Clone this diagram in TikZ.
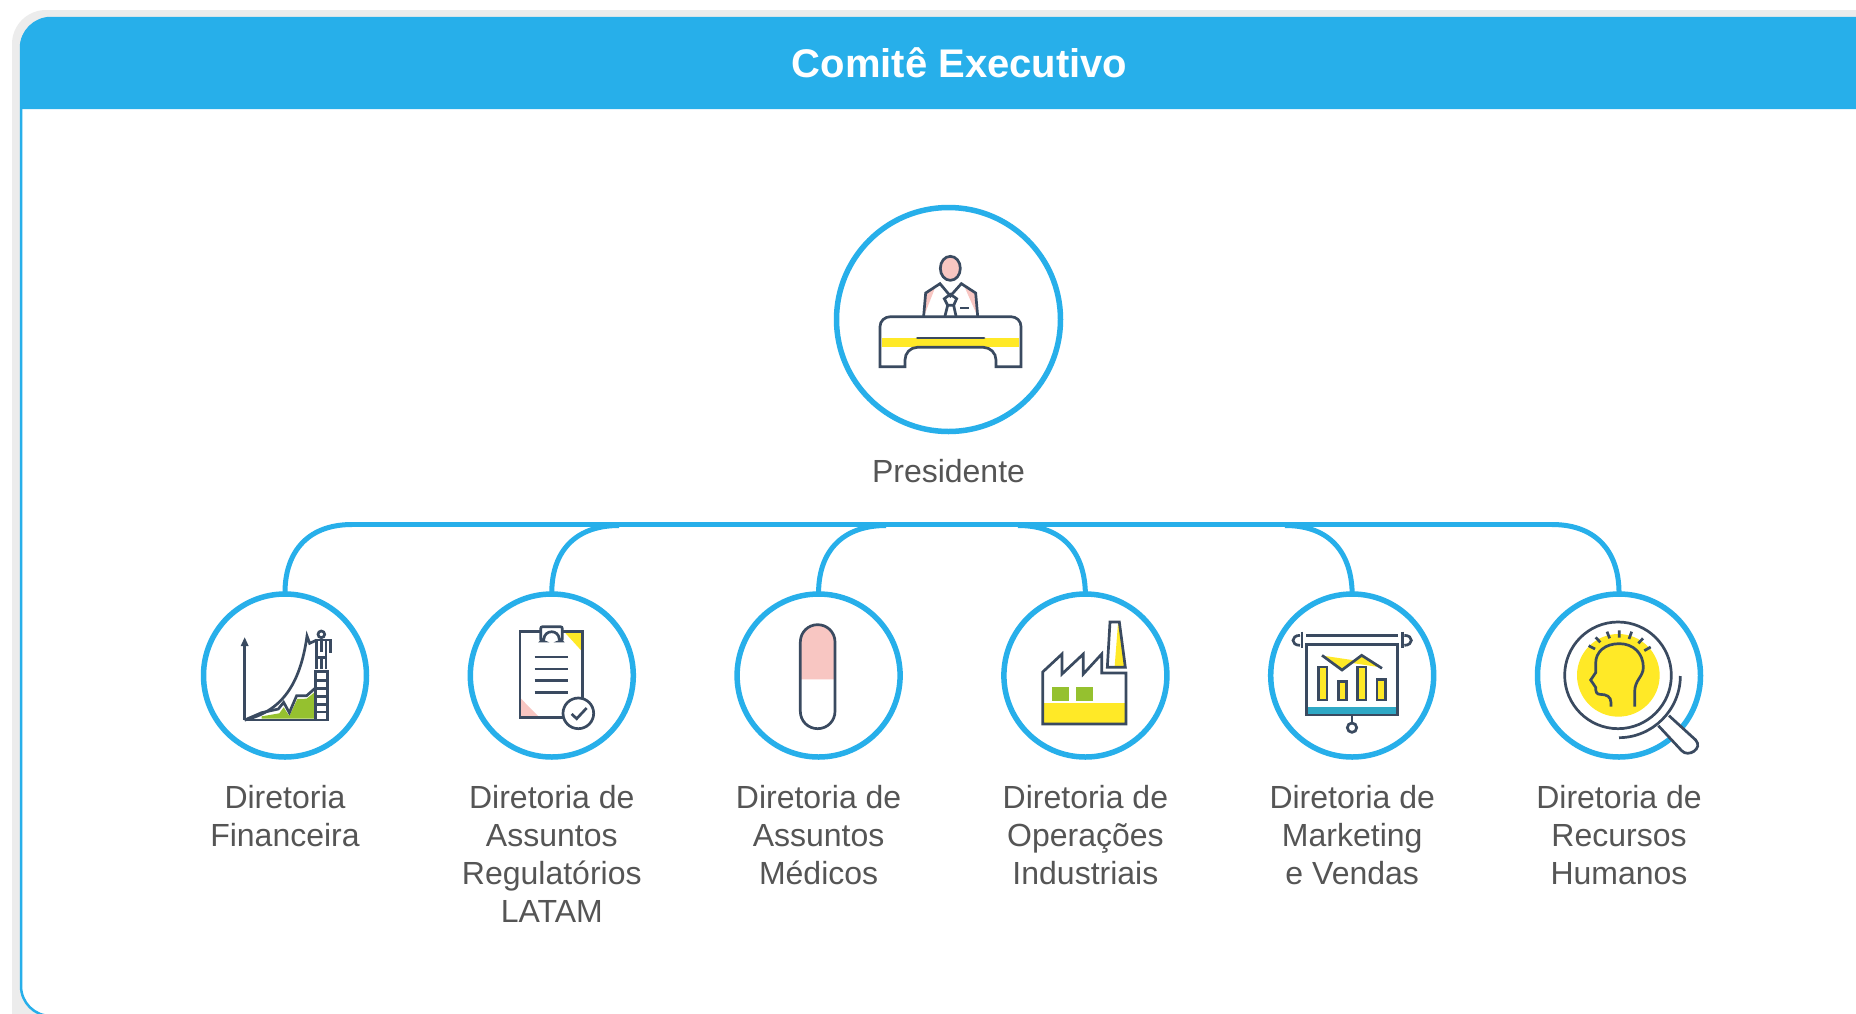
\documentclass[tikz,border=0pt]{standalone}
\usepackage{fontspec}
\setmainfont{Liberation Sans}
\definecolor{skyb}{HTML}{27AFEA}
\definecolor{navy}{HTML}{3A4A60}
\definecolor{yell}{HTML}{FFE927}
\definecolor{pinkk}{HTML}{F8C6C2}
\definecolor{grn}{HTML}{95C12F}
\definecolor{teall}{HTML}{2FA8C5}
\definecolor{edgegray}{HTML}{ECECEC}
\definecolor{txtgray}{HTML}{555555}
\tikzset{
  ink/.style={draw=navy,line width=2.7pt,line join=miter},
  ring/.style={circle,draw=skyb,fill=white,line width=5.5pt,inner sep=0pt,outer sep=0pt},
  bigring/.style={ring,minimum size=224pt},
  smallring/.style={ring,minimum size=163pt},
  link/.style={draw=skyb,line width=5pt},
  lbl/.style={font=\fontsize{32}{38}\selectfont,text=txtgray,align=center,anchor=north,inner sep=0pt},
  icon/.style={x=0.33333pt,y=-0.33333pt}
}
\begin{document}
\begin{tikzpicture}[x=1pt,y=-1pt]
\useasboundingbox (0,0) rectangle (1856,1013);
\clip (0,0) rectangle (1856,1013);
\fill[white] (0,0) rectangle (1856,1013);
% frame
\fill[edgegray,rounded corners=34pt] (12,10) rectangle (1950,1100);
\fill[white,rounded corners=30pt] (21,18) rectangle (1950,1016);
\draw[skyb,line width=2.5pt,rounded corners=30pt] (21,18) rectangle (1950,1016);
\fill[skyb] (20,109) -- (20,48.5) .. controls (20,31.5) and (33,18.5) .. (50,18.5) -- (1950,18.5) -- (1950,109) -- cycle;
\node[font=\bfseries\fontsize{40}{48}\selectfont,text=white,inner sep=0pt] (title) at (959.5,63) {Comitê Executivo};
% rings
\node[bigring] (pres) at (948.5,319.5) {};
\node[smallring] (d1) at (285,675.5) {};
\node[smallring] (d2) at (551.8,675.5) {};
\node[smallring] (d3) at (818.6,675.5) {};
\node[smallring] (d4) at (1085.4,675.5) {};
\node[smallring] (d5) at (1352.2,675.5) {};
\node[smallring] (d6) at (1619,675.5) {};
% connectors
\coordinate (t1) at (352,524.5);
\coordinate (t2) at (619,525.5);
\coordinate (t3) at (886,525.5);
\coordinate (t4) at (1018,525.5);
\coordinate (t5) at (1285,525.5);
\coordinate (t6) at (1552,524.5);
\draw[link] (t1) -- (t6);
\draw[link] (d1.north) .. controls (284.5,555) and (305,524.5) .. (t1);
\draw[link] (d2.north) .. controls (551.3,555) and (572,525.5) .. (t2);
\draw[link] (d3.north) .. controls (818.1,555) and (839,525.5) .. (t3);
\draw[link] (d4.north) .. controls (1084.9,555) and (1065,525.5) .. (t4);
\draw[link] (d5.north) .. controls (1351.7,555) and (1332,525.5) .. (t5);
\draw[link] (d6.north) .. controls (1619.5,555) and (1599,524.5) .. (t6);
% labels
\node[lbl] (lp) at (948.5,459) {Presidente};
\node[lbl] (l1) at (285,785.5) {Diretoria\\Financeira};
\node[lbl] (l2) at (551.8,785.5) {Diretoria de\\Assuntos\\Regulatórios\\LATAM};
\node[lbl] (l3) at (818.6,785.5) {Diretoria de\\Assuntos\\Médicos};
\node[lbl] (l4) at (1085.4,785.5) {Diretoria de\\Operações\\Industriais};
\node[lbl] (l5) at (1352.2,785.5) {Diretoria de\\Marketing\\e Vendas};
\node[lbl] (l6) at (1619,785.5) {Diretoria de\\Recursos\\Humanos};
% president icon
\begin{scope}[shift={(820,195)},icon]
\fill[yell] (186,429) rectangle (598,456);
\fill[pinkk] (317,296) -- (345,279) -- (314,358) -- cycle;
\fill[pinkk] (467,296) -- (432,272) -- (470,358) -- cycle;
\path[ink,fill=pinkk] (391,184) .. controls (374,184) and (361,200) .. (361,220) .. controls (361,240) and (374,256) .. (391,256) .. controls (408,256) and (421,240) .. (421,220) .. controls (421,200) and (408,184) .. (391,184) -- cycle;
\path[ink] (311,363) -- (317,294) -- (360,266) -- (391,303) -- (424,266) -- (467,294) -- (473,363);
\path[ink] (391,298) -- (410,311) -- (401,331) -- (383,331) -- (373,311) -- cycle;
\path[ink] (383,331) -- (375,363) (401,331) -- (408,363);
\path[ink] (421,339) -- (448,339);
\path[ink] (180,515) -- (180,395) .. controls (180,378) and (194,365) .. (212,365) -- (572,365) .. controls (590,365) and (603,378) .. (603,395) -- (603,515) -- (528,515) -- (528,495) .. controls (528,474) and (511,457) .. (490,457) -- (292,457) .. controls (271,457) and (255,474) .. (255,495) -- (255,515) -- cycle;
\path[ink,line cap=round] (292,429) -- (492,429);
\end{scope}
% finance icon
\begin{scope}[shift={(190,580)},icon]
\fill[grn] (215,409) -- (268,400) -- (281,382) -- (298,408) -- (322,357) -- (350,356) -- (372,338) -- (372,416) -- (215,416) -- cycle;
\path[ink] (164,420) -- (164,195);
\fill[navy] (152,198) -- (164,172) -- (176,198) -- cycle;
\path[ink] (164,420) -- (412,420);
\path[ink] (376,274) rectangle (412,420);
\path[ink] (376,302) -- (412,302) (376,325) -- (412,325) (376,350) -- (412,350) (376,373) -- (412,373) (376,396) -- (412,396);
\path[ink] (164,420) .. controls (270,395) and (330,320) .. (351,168) -- (359,190) -- (380,180);
\path[ink] (164,420) -- (215,398) -- (265,387) -- (281,367) -- (298,398) -- (320,347) -- (350,347) -- (375,325);
\path[ink] (394,163) circle[radius=10];
\path[ink] (380,268) -- (380,180) -- (421,180) -- (421,220);
\path[ink] (408,268) -- (408,182);
\path[ink] (394,232) -- (394,268) (380,232) -- (408,232);
\path[ink] (394,182) -- (394,215);
\end{scope}
% clipboard icon
\begin{scope}[shift={(460,580)},icon]
\fill[yell] (315,158) -- (366,158) -- (366,214) -- cycle;
\fill[pinkk] (182,355) -- (182,414) -- (240,414) -- cycle;
\path[ink] (180,155) rectangle (368,413);
\path[ink,fill=white,rounded corners=2pt] (242,183) -- (242,140) -- (307,140) -- (307,183) -- (298,183) .. controls (296,148) and (254,148) .. (251,183) -- cycle;
\path[ink] (224,231) -- (325,231) (224,267) -- (325,267) (224,302) -- (325,302) (224,338) -- (325,338);
\path[ink,fill=white] (355,400) circle[radius=46];
\path[ink] (335,402) -- (350,416) -- (380,384);
\end{scope}
% pill icon
\begin{scope}[shift={(725,580)},icon]
\fill[pinkk] (226,298) -- (226,186) .. controls (226,157) and (249,134) .. (278,134) .. controls (307,134) and (330,157) .. (330,186) -- (330,298) -- cycle;
\path[ink] (226,186) .. controls (226,157) and (249,134) .. (278,134) .. controls (307,134) and (330,157) .. (330,186) -- (330,394) .. controls (330,423) and (307,446) .. (278,446) .. controls (249,446) and (226,423) .. (226,394) -- cycle;
\end{scope}
% factory icon
\begin{scope}[shift={(990,580)},icon]
\fill[yell] (162,369) rectangle (404,428);
\fill[grn] (186,321) rectangle (236,363);
\fill[grn] (258,321) rectangle (308,363);
\fill[yell] (384,130) -- (388,130) -- (403,259) -- (374,259) -- cycle;
\path[ink] (158,432) -- (158,276) -- (216,222) -- (216,282) -- (280,222) -- (280,282) -- (335,222) -- (335,279) -- (408,279) -- (408,432) -- cycle;
\path[ink] (360,126) -- (388,126) -- (406,262) -- (352,262) -- cycle;
\end{scope}
% marketing icon
\begin{scope}[shift={(1260,580)},icon]
\fill[teall] (144,381) rectangle (408,402);
\fill[yell] (195,228) -- (290,242) -- (246,268) -- cycle;
\fill[yell] (305,228) -- (362,262) -- (270,248) -- cycle;
\path[ink] (138,166) -- (414,166);
\path[ink] (126,155) -- (126,203) (427,155) -- (427,203);
\path[ink] (120,166) .. controls (92,166) and (92,196) .. (120,196);
\path[ink] (433,166) .. controls (461,166) and (461,196) .. (433,196);
\path[ink] (140,194) rectangle (412,405);
\path[ink,fill=yell] (176,261) rectangle (201,360);
\path[ink,fill=yell] (235,305) rectangle (260,360);
\path[ink,fill=yell] (293,261) rectangle (318,360);
\path[ink,fill=yell] (351,298) rectangle (376,360);
\path[ink] (186,226) -- (246,270) -- (305,226) -- (366,265);
\path[ink] (276,405) -- (276,430);
\path[ink,fill=white] (276,443) circle[radius=14];
\end{scope}
% human resources icon
\begin{scope}[shift={(1525,580)},icon]
\fill[yell] (280,286) circle[radius=124];
\path[ink] (279,286) circle[radius=160];
\path[ink] (466,288) .. controls (466,390) and (382,473) .. (282,473);
\path[ink,fill=white] (400,437) -- (470,512) .. controls (490,534) and (535,505) .. (512,480) -- (432,407);
\path[ink] (258,380) -- (258,368) .. controls (258,350) and (245,343) .. (225,343) .. controls (214,343) and (212,335) .. (212,322) -- (197,300) -- (212,278) -- (212,250) .. controls (212,215) and (240,191) .. (283,191) .. controls (325,191) and (355,220) .. (355,262) .. controls (355,290) and (329,300) .. (329,335) -- (329,380);
\path[ink] (191,197) -- (210,207) (212,172) -- (226,187) (246,155) -- (254,175) (283,151) -- (283,173) (320,155) -- (312,177) (354,175) -- (340,190) (377,201) -- (358,212);
\end{scope}
\end{tikzpicture}
\end{document}
